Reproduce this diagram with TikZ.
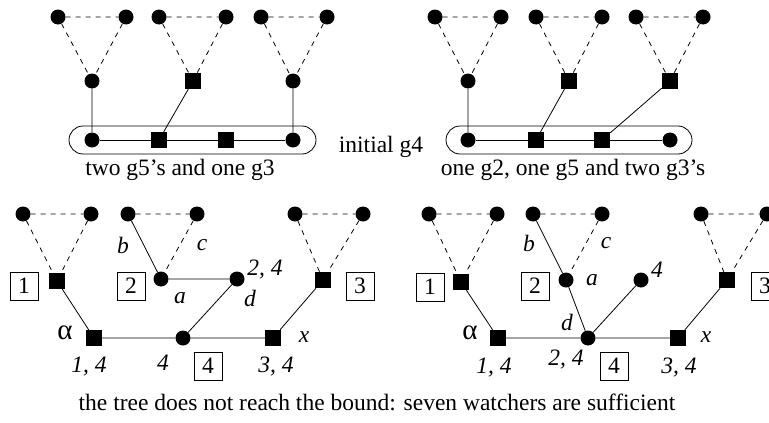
\documentclass[tikz,border=0pt]{standalone}
\usepackage{fontspec}
\setmainfont{Liberation Serif}
\begin{document}
\begin{tikzpicture}[x=1pt,y=-1pt,
  dot/.style={circle,fill,inner sep=0pt,minimum size=15pt},
  sq/.style={rectangle,fill,inner sep=0pt,minimum size=16pt},
  lab/.style={font=\fontsize{23.5}{28}\selectfont\itshape,inner sep=0pt},
  txt/.style={font=\fontsize{23.5}{28}\selectfont,inner sep=0pt},
  alph/.style={font=\fontsize{29}{32}\selectfont,inner sep=0pt},
  numbox/.style={draw,line width=0.8pt,inner sep=0pt,minimum size=28pt,font=\fontsize{23.5}{28}\selectfont},
  dsh/.style={dashed,dash pattern=on 5pt off 5pt,line width=0.8pt},
  sol/.style={line width=0.8pt},
  ring/.style={draw,line width=0.8pt,rounded corners=14pt,minimum height=28pt,inner sep=0pt}]
\useasboundingbox (0,0) rectangle (769,423);

% ---------- top-left panel ----------
\node[ring,minimum width=247pt] (R1) at (192.5,140) {};
\node[dot] (t1a) at (58,17) {};
\node[dot] (t1b) at (126,17) {};
\node[dot] (t2a) at (159,17) {};
\node[dot] (t2b) at (226,17) {};
\node[dot] (t3a) at (261,17) {};
\node[dot] (t3b) at (327,17) {};
\node[dot] (m1) at (92,81) {};
\node[sq] (m2) at (193,81) {};
\node[dot] (m3) at (293,81) {};
\node[dot] (b1) at (92,140) {};
\node[sq] (b2) at (159,140) {};
\node[sq] (b3) at (226,140) {};
\node[dot] (b4) at (293,140) {};
\draw[dsh] (t1a) -- (t1b) (t1a) -- (m1) (t1b) -- (m1);
\draw[dsh] (t2a) -- (t2b) (t2a) -- (m2) (t2b) -- (m2);
\draw[dsh] (t3a) -- (t3b) (t3a) -- (m3) (t3b) -- (m3);
\draw[sol] (m1) -- (b1) (m2) -- (b2) (m3) -- (b4);
\draw[sol] (b1) -- (b2) -- (b3) -- (b4);
\node[txt] (cap1) at (180,170) {two g5’s and one g3};
\node[txt] (init) at (381,147) {initial g4};

% ---------- top-right panel ----------
\node[ring,minimum width=246pt] (R2) at (569,140) {};
\node[dot] (u1a) at (435,17) {};
\node[dot] (u1b) at (501,17) {};
\node[dot] (u2a) at (536,17) {};
\node[dot] (u2b) at (602,17) {};
\node[dot] (u3a) at (636,17) {};
\node[dot] (u3b) at (703,17) {};
\node[dot] (n1) at (468,81) {};
\node[sq] (n2) at (569,81) {};
\node[sq] (n3) at (670,81) {};
\node[dot] (c1) at (468,140) {};
\node[sq] (c2) at (536,140) {};
\node[sq] (c3) at (602,140) {};
\node[dot] (c4) at (670,140) {};
\draw[dsh] (u1a) -- (u1b) (u1a) -- (n1) (u1b) -- (n1);
\draw[dsh] (u2a) -- (u2b) (u2a) -- (n2) (u2b) -- (n2);
\draw[dsh] (u3a) -- (u3b) (u3a) -- (n3) (u3b) -- (n3);
\draw[sol] (n1) -- (c1) (n2) -- (c2) (n3) -- (c3);
\draw[sol] (c1) -- (c2) -- (c3) -- (c4);
\node[txt] (cap2) at (573,170) {one g2, one g5 and two g3’s};

% ---------- bottom-left panel ----------
\node[dot] (p1a) at (23,214) {};
\node[dot] (p1b) at (91,214) {};
\node[dot] (p2a) at (128,214) {};
\node[dot] (p2b) at (197,214) {};
\node[dot] (p3a) at (295,214) {};
\node[dot] (p3b) at (363,214) {};
\node[sq] (s1) at (57,281) {};
\node[dot] (pa) at (161,279) {};
\node[dot] (pd) at (237,279) {};
\node[sq] (s3) at (323,280) {};
\node[sq] (pal) at (94,338) {};
\node[dot] (pc) at (183,338) {};
\node[sq] (px) at (273,338) {};
\draw[dsh] (p1a) -- (p1b) (p1a) -- (s1) (p1b) -- (s1);
\draw[dsh] (p2a) -- (p2b) (p2b) -- (pa);
\draw[dsh] (p3a) -- (p3b) (p3a) -- (s3) (p3b) -- (s3);
\draw[sol] (p2a) -- (pa) (pa) -- (pd) (pd) -- (pc);
\draw[sol] (s1) -- (pal) (pal) -- (pc) -- (px) (px) -- (s3);
\node[numbox] (k1) at (24,286) {1};
\node[numbox] (k2) at (131,286) {2};
\node[numbox] (k3) at (360,286) {3};
\node[numbox] (k4) at (208,366) {4};
\node[lab] (lb) at (123,245) {b};
\node[lab] (lc) at (202,245) {c};
\node[lab] (la) at (180,298) {a};
\node[lab] (l24) at (265,270) {2, 4};
\node[lab] (ld) at (250,298) {d};
\node[alph] (lal) at (65,333) {α};
\node[lab] (l14) at (89,367) {1, 4};
\node[lab] (l4) at (163,363) {4};
\node[lab] (lx) at (304,337) {x};
\node[lab] (l34) at (276,367) {3, 4};

% ---------- bottom-right panel ----------
\node[dot] (q1a) at (429,214) {};
\node[dot] (q1b) at (497,214) {};
\node[dot] (q2a) at (533,214) {};
\node[dot] (q2b) at (602,214) {};
\node[dot] (q3a) at (701,214) {};
\node[dot] (q3b) at (767,214) {};
\node[sq] (r1) at (461,282) {};
\node[dot] (qa) at (566,280) {};
\node[dot] (qf) at (641,280) {};
\node[sq] (r3) at (727,280) {};
\node[sq] (qal) at (498,338) {};
\node[dot] (qc) at (588,338) {};
\node[sq] (qx) at (678,338) {};
\draw[dsh] (q1a) -- (q1b) (q1a) -- (r1) (q1b) -- (r1);
\draw[dsh] (q2a) -- (q2b) (q2b) -- (qa);
\draw[dsh] (q3a) -- (q3b) (q3a) -- (r3) (q3b) -- (r3);
\draw[sol] (q2a) -- (qa) (qa) -- (qc) (qf) -- (qc);
\draw[sol] (r1) -- (qal) (qal) -- (qc) -- (qx) (qx) -- (r3);
\node[numbox] (h1) at (430,287) {1};
\node[numbox] (h2) at (535,286) {2};
\node[numbox] (h3) at (765,286) {3};
\node[numbox] (h4) at (614,366) {4};
\node[lab] (mb) at (529,243) {b};
\node[lab] (mc) at (606,243) {c};
\node[lab] (ma) at (592,280) {a};
\node[lab] (md) at (567,322) {d};
\node[alph] (mal) at (470,333) {α};
\node[lab] (m14) at (494,368) {1, 4};
\node[lab] (m24) at (566,360) {2, 4};
\node[lab] (mx) at (706,337) {x};
\node[lab] (m34) at (679,368) {3, 4};
\node[lab] (m4) at (657,270) {4};

\node[txt] (cap3) at (377,402) {the tree does not reach the bound: seven watchers are sufficient};
\end{tikzpicture}
\end{document}
